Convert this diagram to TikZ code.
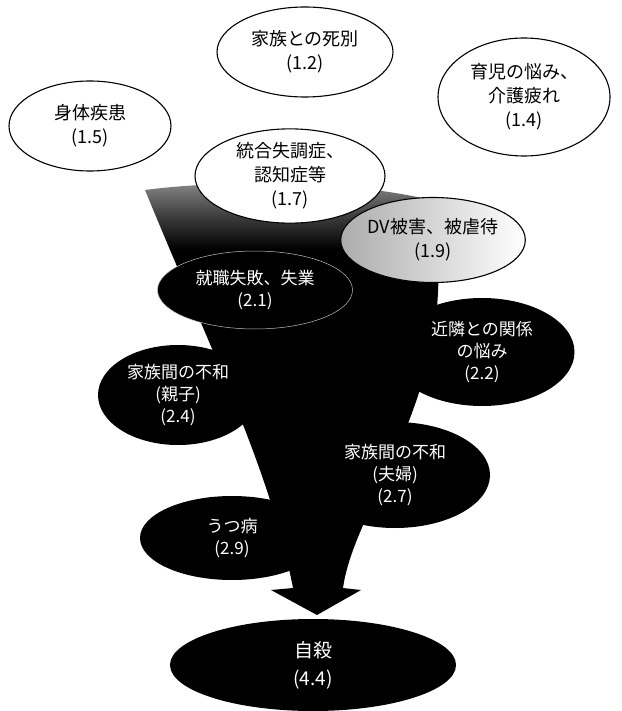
\documentclass[tikz,border=0pt]{standalone}
\usepackage{fontspec}
\setmainfont{Noto Sans CJK JP}
\usetikzlibrary{shapes.geometric}
\pgfdeclareverticalshading{funnelshade}{100bp}{color(0bp)=(black); color(67bp)=(black); color(71bp)=(black!75); color(75bp)=(black!45); color(100bp)=(black!45)}
\begin{document}
\begin{tikzpicture}[x=1pt,y=-1pt,
  lightell/.style={ellipse, draw=black, line width=1.1pt, fill=white, inner sep=0pt, align=center, font=\fontsize{18}{24}\selectfont},
  darkell/.style={ellipse, draw=none, fill=black, text=white, inner sep=0pt, align=center, font=\fontsize{17}{22}\selectfont}]
\useasboundingbox (0,0) rectangle (621,711);
% funnel with arrowhead
\shade[shading=funnelshade]
  (145,190) .. controls (215,360) and (270,470) .. (293,588)
  -- (271,590) -- (317,615) -- (361,590) -- (343,588)
  .. controls (355,500) and (470,380) .. (430,200)
  .. controls (350,180) and (220,180) .. (145,190) -- cycle;
% light ellipses
\node[lightell, minimum width=176pt, minimum height=90pt] (kazoku) at (305,52) {家族との死別\\(1.2)};
\node[lightell, minimum width=162pt, minimum height=90pt] (shintai) at (90,126) {身体疾患\\(1.5)};
\node[lightell, minimum width=172pt, minimum height=118pt] (ikuji) at (524,97) {育児の悩み、\\介護疲れ\\(1.4)};
\node[lightell, minimum width=190pt, minimum height=94pt] (togo) at (290,176) {統合失調症、\\認知症等\\(1.7)};
\node[lightell, minimum width=173pt, minimum height=85pt, left color=gray!65, right color=white] (dv) at (433,240) {DV被害、被虐待\\(1.9)};
% dark ellipses
\node[darkell, draw=white!75!black, line width=0.5pt, minimum width=195pt, minimum height=78pt] (shushoku) at (255,290) {就職失敗、失業\\(2.1)};
\node[darkell, minimum width=185pt, minimum height=108pt] (kinrin) at (482,352) {近隣との関係\\の悩み\\(2.2)};
\node[darkell, minimum width=160pt, minimum height=100pt] (oyako) at (178,395) {家族間の不和\\(親子)\\(2.4)};
\node[darkell, minimum width=190pt, minimum height=106pt] (fufu) at (395,475) {家族間の不和\\(夫婦)\\(2.7)};
\node[darkell, minimum width=184pt, minimum height=84pt] (utsu) at (232,538) {うつ病\\(2.9)};
\node[darkell, minimum width=286pt, minimum height=92pt, font=\fontsize{19}{28}\selectfont] (jisatsu) at (313,665) {自殺\\(4.4)};
\end{tikzpicture}
\end{document}
